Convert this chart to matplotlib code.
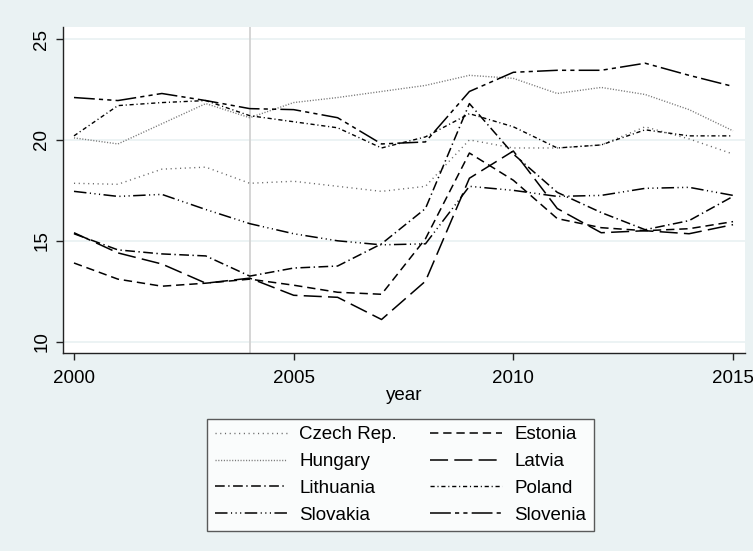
import matplotlib.pyplot as plt
import numpy as np

plt.rcParams['font.family'] = ['Liberation Sans', 'DejaVu Sans']
plt.rcParams['lines.scale_dashes'] = False

# social spending series by country, 2000-2015
years = list(range(2000, 2016))
czech = [17.85, 17.8, 18.55, 18.65, 17.85, 17.95, 17.7, 17.45, 17.7, 20.0, 19.6, 19.6, 19.75, 20.65, 20.05, 19.3]
hungary = [20.1, 19.8, 20.8, 21.8, 21.1, 21.85, 22.1, 22.4, 22.7, 23.2, 23.05, 22.3, 22.6, 22.25, 21.5, 20.45]
lithuania = [15.35, 14.55, 14.35, 14.25, 13.25, 13.65, 13.75, 14.85, 16.6, 21.8, 19.3, 17.4, 16.4, 15.55, 16.0, 17.2]
slovakia = [17.45, 17.2, 17.3, 16.55, 15.85, 15.35, 15.0, 14.8, 14.85, 17.7, 17.5, 17.2, 17.25, 17.6, 17.65, 17.25]
estonia = [13.9, 13.1, 12.75, 12.9, 13.1, 12.8, 12.45, 12.35, 15.1, 19.35, 18.0, 16.1, 15.65, 15.5, 15.6, 15.95]
latvia = [15.4, 14.4, 13.85, 12.9, 13.15, 12.3, 12.2, 11.1, 13.0, 18.1, 19.45, 16.6, 15.4, 15.5, 15.35, 15.8]
poland = [20.2, 21.7, 21.85, 21.95, 21.2, 20.9, 20.6, 19.6, 20.15, 21.3, 20.65, 19.6, 19.75, 20.5, 20.2, 20.2]
slovenia = [22.1, 21.95, 22.3, 21.95, 21.55, 21.5, 21.1, 19.8, 19.9, 22.4, 23.35, 23.45, 23.45, 23.8, 23.2, 22.65]

bg = '#eaf2f3'
fig = plt.figure(figsize=(7.53, 5.51), dpi=100, facecolor=bg)
ax = fig.add_axes([62.7 / 753, 1 - 353 / 551, (745 - 62.7) / 753, (353 - 27) / 551])
ax.set_facecolor('white')

for v in [10, 15, 20, 25]:
    ax.axhline(v, color=bg, lw=1.3, zorder=0)
ax.axvline(2004, color='#d2d2d2', lw=1.3, zorder=0)

series = [
    ('Czech Rep.', czech, dict(color='#666666', lw=1.0, dashes=(0.8, 2.6))),
    ('Hungary', hungary, dict(color='#777777', lw=1.0, dashes=(0.8, 1.2))),
    ('Lithuania', lithuania, dict(color='black', lw=1.1, dashes=(7, 2.5, 1, 2.5))),
    ('Slovakia', slovakia, dict(color='black', lw=1.1, dashes=(9, 2.5, 0.8, 2.5, 0.8, 2.5, 0.8, 2.5))),
    ('Estonia', estonia, dict(color='black', lw=1.1, dashes=(6, 3.5))),
    ('Latvia', latvia, dict(color='black', lw=1.1, dashes=(13, 4.5))),
    ('Poland', poland, dict(color='black', lw=1.0, dashes=(3, 2, 0.8, 2))),
    ('Slovenia', slovenia, dict(color='black', lw=1.1, dashes=(15, 3, 3, 3, 3, 3))),
]
handles = []
for name, vals, style in series:
    h, = ax.plot(years, vals, label=name, **style)
    handles.append(h)

ax.set_xlim(1999.743, 2015.273)
ax.set_ylim(9.44, 25.595)
ax.set_xticks([2000, 2005, 2010, 2015])
ax.set_yticks([10, 15, 20, 25])
ax.set_yticklabels(['10', '15', '20', '25'], rotation=90, va='center')
ax.tick_params(axis='both', length=5, width=1, labelsize=13.5, color='#222222')
ax.tick_params(axis='x', pad=7)
ax.tick_params(axis='y', pad=4)
for s in ['top', 'right']:
    ax.spines[s].set_visible(False)
for s in ['left', 'bottom']:
    ax.spines[s].set_linewidth(1.0)
    ax.spines[s].set_color('#222222')
ax.set_xlabel('year', fontsize=13.5, labelpad=0.5)

leg = fig.legend(handles=handles, loc='center', bbox_to_anchor=(400.5 / 753, 1 - 475 / 551),
                 ncol=2, fontsize=13.5, frameon=True, fancybox=False, edgecolor='#333333',
                 handlelength=3.85, handletextpad=0.65, columnspacing=1.75, labelspacing=0.52,
                 borderpad=0.4, borderaxespad=0)
leg.get_frame().set_linewidth(1.0)

fig.savefig('out.png', dpi=100, facecolor=bg)
